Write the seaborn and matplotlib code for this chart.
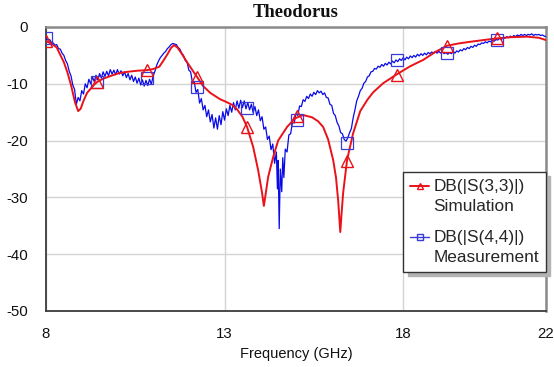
import numpy as np
import pandas as pd
import matplotlib
matplotlib.use("Agg")
import matplotlib.pyplot as plt
from matplotlib.lines import Line2D
import seaborn as sns

# ---------------- data ----------------
sim_freq = [8.0, 8.15, 8.3, 8.5, 8.6, 8.7, 8.81, 8.9, 8.97, 9.05, 9.15, 9.34, 9.43, 9.6,
            9.82, 10.05, 10.27, 10.55, 10.83, 11.0, 11.17, 11.28, 11.39, 11.5, 11.58,
            11.68, 11.8, 11.95, 12.1, 12.23, 12.4, 12.6, 12.87, 13.05, 13.21, 13.35,
            13.5, 13.63, 13.8, 13.94, 14.05, 14.1, 14.16, 14.22, 14.36, 14.5, 14.75,
            14.97, 15.2, 15.45, 15.62, 15.76, 15.9, 16.04, 16.12, 16.18, 16.24, 16.28,
            16.32, 16.43, 16.6, 16.8, 17.0, 17.16, 17.44, 17.83, 18.2, 18.56, 18.9,
            19.23, 19.55, 19.88, 20.25, 20.63, 21.0, 21.47, 21.8, 22.0]
sim_db = [-2.5, -2.9, -3.6, -6.2, -8.0, -10.2, -13.2, -14.8, -14.4, -13.0, -11.6, -10.2,
          -9.7, -9.1, -8.6, -8.1, -7.9, -7.7, -7.6, -7.4, -7.0, -6.0, -4.9, -3.7, -3.2,
          -3.6, -4.7, -6.2, -7.6, -8.8, -10.4, -11.6, -12.7, -13.2, -13.7, -14.5, -15.8,
          -17.6, -21.1, -25.2, -29.2, -31.5, -29.0, -26.4, -22.9, -20.0, -17.6, -16.1,
          -15.5, -15.9, -16.6, -17.6, -19.8, -23.4, -26.5, -30.5, -36.1, -32.5, -29.2,
          -23.4, -18.7, -14.8, -12.8, -11.5, -9.9, -8.3, -6.9, -5.8, -4.4, -3.3, -2.9,
          -2.6, -2.3, -2.0, -1.8, -1.7, -1.9, -2.3]

meas_freq = [8.00, 8.05, 8.10, 8.15, 8.20, 8.25, 8.30, 8.35, 8.40, 8.45, 8.50, 8.55, 8.60,
             8.65, 8.70, 8.75, 8.80, 8.85, 8.90, 8.95, 9.00, 9.05, 9.10, 9.15, 9.20, 9.25,
             9.30, 9.35, 9.40, 9.45, 9.50, 9.55, 9.60, 9.65, 9.70, 9.75, 9.80, 9.85, 9.90,
             9.95, 10.00, 10.05, 10.10, 10.15, 10.20, 10.25, 10.30, 10.35, 10.40, 10.45,
             10.50, 10.55, 10.60, 10.65, 10.70, 10.75, 10.80, 10.85, 10.90, 10.95, 11.00,
             11.05, 11.10, 11.15, 11.20, 11.25, 11.30, 11.35, 11.40, 11.45, 11.50, 11.55,
             11.60, 11.65, 11.70, 11.75, 11.80, 11.85, 11.90, 11.95, 12.00, 12.05, 12.10,
             12.15, 12.20, 12.25, 12.30, 12.35, 12.40, 12.45, 12.50, 12.55, 12.60, 12.65,
             12.70, 12.75, 12.80, 12.85, 12.90, 12.95, 13.00, 13.05, 13.10, 13.15, 13.20,
             13.25, 13.30, 13.35, 13.40, 13.45, 13.50, 13.55, 13.60, 13.65, 13.70, 13.75,
             13.80, 13.85, 13.90, 13.95, 14.00, 14.05, 14.10, 14.15, 14.20, 14.25, 14.30,
             14.35, 14.40, 14.45, 14.48, 14.50, 14.53, 14.56, 14.60, 14.63, 14.66, 14.70,
             14.75, 14.80, 14.85, 14.90, 14.95, 15.00, 15.05, 15.10, 15.15, 15.20, 15.25,
             15.30, 15.35, 15.40, 15.45, 15.50, 15.55, 15.60, 15.65, 15.70, 15.75, 15.80,
             15.85, 15.90, 15.95, 16.00, 16.05, 16.10, 16.15, 16.20, 16.25, 16.30, 16.35,
             16.40, 16.45, 16.50, 16.55, 16.60, 16.65, 16.70, 16.75, 16.80, 16.85, 16.90,
             16.95, 17.00, 17.05, 17.10, 17.15, 17.20, 17.25, 17.30, 17.35, 17.40, 17.45,
             17.50, 17.55, 17.60, 17.65, 17.70, 17.75, 17.80, 17.85, 17.90, 17.95, 18.00,
             18.05, 18.10, 18.15, 18.20, 18.25, 18.30, 18.35, 18.40, 18.45, 18.50, 18.55,
             18.60, 18.65, 18.70, 18.75, 18.80, 18.85, 18.90, 18.95, 19.00, 19.05, 19.10,
             19.15, 19.20, 19.25, 19.30, 19.35, 19.40, 19.45, 19.50, 19.55, 19.60, 19.65,
             19.70, 19.75, 19.80, 19.85, 19.90, 19.95, 20.00, 20.05, 20.10, 20.15, 20.20,
             20.25, 20.30, 20.35, 20.40, 20.45, 20.50, 20.55, 20.60, 20.65, 20.70, 20.75,
             20.80, 20.85, 20.90, 20.95, 21.00, 21.05, 21.10, 21.15, 21.20, 21.25, 21.30,
             21.35, 21.40, 21.45, 21.50, 21.55, 21.60, 21.65, 21.70, 21.75, 21.80, 21.85,
             21.90, 21.95, 22.00]
meas_db = [-2.0, -2.3, -2.2, -2.7, -2.8, -3.2, -3.1, -3.8, -3.9, -4.6, -5.0, -5.9, -6.5,
           -7.8, -8.6, -10.2, -11.0, -13.6, -12.4, -13.0, -11.2, -11.8, -10.0, -10.7, -9.2,
           -10.0, -8.8, -9.6, -8.5, -9.3, -8.2, -9.0, -7.9, -8.7, -7.8, -8.6, -7.5, -8.3,
           -7.6, -8.4, -7.5, -8.3, -7.7, -8.6, -7.9, -8.9, -8.2, -9.3, -8.5, -9.6, -8.8,
           -9.9, -9.0, -10.2, -9.3, -10.4, -9.4, -10.3, -9.2, -10.1, -8.6, -7.8, -6.7,
           -6.0, -5.4, -5.0, -4.6, -4.3, -3.8, -3.5, -3.1, -2.9, -3.0, -3.1, -3.6, -3.9,
           -4.6, -5.0, -5.9, -6.2, -7.6, -7.9, -9.8, -9.6, -11.5, -11.0, -13.4, -12.6,
           -14.6, -13.8, -15.8, -14.6, -16.7, -15.4, -17.8, -16.0, -18.0, -15.6, -17.2,
           -14.9, -16.4, -14.4, -15.6, -13.8, -15.0, -13.3, -14.6, -13.0, -14.3, -12.9,
           -14.2, -13.0, -14.4, -13.3, -14.6, -13.6, -15.1, -14.0, -15.6, -14.6, -16.5,
           -15.8, -18.0, -17.6, -19.8, -19.2, -21.6, -20.6, -24.0, -22.0, -28.5, -23.5,
           -35.5, -25.0, -29.0, -23.0, -26.5, -21.5, -22.0, -19.0, -18.8, -16.8, -16.9,
           -15.2, -15.6, -13.9, -14.0, -12.8, -13.1, -12.2, -12.6, -11.8, -12.2, -11.5,
           -11.9, -11.2, -11.6, -11.3, -11.9, -11.6, -12.4, -12.5, -13.6, -13.8, -15.2,
           -15.6, -16.8, -17.4, -18.6, -18.8, -19.8, -20.1, -19.5, -18.6, -17.9, -16.0,
           -14.6, -13.0, -12.2, -11.2, -10.8, -9.9, -9.6, -8.8, -8.6, -7.9, -7.8, -7.3,
           -7.4, -6.9, -7.1, -6.6, -6.9, -6.4, -6.7, -6.2, -6.5, -6.0, -6.3, -5.8, -6.1,
           -5.6, -5.9, -5.4, -5.8, -5.3, -5.6, -5.1, -5.4, -5.0, -5.3, -4.8, -5.1, -4.7,
           -5.0, -4.6, -4.9, -4.5, -4.7, -4.4, -4.6, -4.3, -4.6, -4.3, -4.6, -4.4, -4.7,
           -4.5, -4.8, -4.5, -4.7, -4.3, -4.6, -4.2, -4.4, -4.0, -4.2, -3.8, -4.0, -3.6,
           -3.8, -3.4, -3.6, -3.2, -3.4, -3.0, -3.1, -2.8, -2.9, -2.6, -2.8, -2.5, -2.6,
           -2.3, -2.5, -2.2, -2.3, -2.0, -2.2, -1.9, -2.0, -1.7, -1.9, -1.6, -1.8, -1.5,
           -1.7, -1.4, -1.6, -1.3, -1.5, -1.3, -1.5, -1.3, -1.4, -1.2, -1.5, -1.3, -1.4,
           -1.3, -1.5, -1.4, -1.6, -1.7]

marker_freq = [8.0, 9.43, 10.83, 12.23, 13.63, 15.03, 16.43, 17.83, 19.23, 20.63]
sim_marker_db = [-2.4, -9.7, -7.6, -8.8, -17.6, -15.7, -23.6, -8.4, -3.3, -2.0]
meas_marker_db = [-2.0, -9.7, -9.0, -10.6, -14.3, -16.4, -20.4, -5.8, -4.6, -2.3]

x_ticks = [8, 13, 18, 22]
y_ticks = [0, -10, -20, -30, -40, -50]
title = "Theodorus"
x_label = "Frequency (GHz)"
sim_label = "DB(|S(3,3)|)\nSimulation"
meas_label = "DB(|S(4,4)|)\nMeasurement"

# ---------------- styling ----------------
RED = "#ea1118"
BLUE = "#0a0ae6"
MBLUE = "#3a3ad8"

sns.set_theme(style="white")
plt.rcParams["font.family"] = ["Liberation Sans", "DejaVu Sans"]

fig = plt.figure(figsize=(5.54, 3.67), dpi=100)
ax = fig.add_axes([46 / 554, 1 - 311 / 367, 500 / 554, 284 / 367])

sim_df = pd.DataFrame({"f": sim_freq, "db": sim_db})
meas_df = pd.DataFrame({"f": meas_freq, "db": meas_db})

sns.lineplot(data=meas_df, x="f", y="db", ax=ax, color=BLUE, linewidth=0.9,
             estimator=None, sort=False, zorder=3)
sns.lineplot(data=sim_df, x="f", y="db", ax=ax, color=RED, linewidth=1.4,
             estimator=None, sort=False, zorder=4)

ax.plot(marker_freq, meas_marker_db, linestyle="none", marker="s", markersize=8,
        markerfacecolor="none", markeredgecolor=MBLUE, markeredgewidth=0.9, zorder=5)
ax.plot(marker_freq, sim_marker_db, linestyle="none", marker="^", markersize=8.5,
        markerfacecolor="none", markeredgecolor=RED, markeredgewidth=1.0, zorder=6)

ax.set_xlim(8, 22)
ax.set_ylim(-50, 0)
ax.set_xticks(x_ticks)
ax.set_yticks(y_ticks)
ax.set_xticklabels([str(t) for t in x_ticks])
ax.set_yticklabels([str(t) for t in y_ticks])
ax.tick_params(axis="both", length=0, labelsize=10.8, colors="#111111")
ax.tick_params(axis="x", pad=11.5)
ax.tick_params(axis="y", pad=13)

ax.grid(True, color="#d4d4d4", linewidth=1.0)
ax.set_axisbelow(True)

for side in ["left", "bottom"]:
    ax.spines[side].set_color("#3c3c3c")
    ax.spines[side].set_linewidth(1.3)
for side in ["top", "right"]:
    ax.spines[side].set_color("#8a8a8a")
    ax.spines[side].set_linewidth(1.8)

ax.set_xlabel(x_label, fontsize=10.5, labelpad=4, color="#111111")
ax.set_ylabel("")
ax.set_title(title, fontsize=13.3, fontweight="bold", family="Liberation Serif",
             pad=7, color="#111111")

# legend: handle on the first line of each two-line label
h_sim = Line2D([], [], color=RED, linewidth=1.4, marker="^", markersize=5,
               markerfacecolor="none", markeredgecolor=RED)
h_meas = Line2D([], [], color=MBLUE, linewidth=1.0, marker="s", markersize=5,
                markerfacecolor="none", markeredgecolor=MBLUE)
leg = ax.legend([h_sim, h_meas], [sim_label, meas_label],
                loc="upper right", bbox_to_anchor=(1.0, 0.49), borderaxespad=0,
                fontsize=12.4, handlelength=1.1, handletextpad=0.25,
                handleheight=1.1, borderpad=0.4, labelspacing=0.95,
                fancybox=False, frameon=True, framealpha=1,
                shadow={"ox": 3, "oy": -3, "color": "0.7", "alpha": 1})
for txt in leg.get_texts():
    txt.set_linespacing(1.42)
for col in leg._legend_handle_box.get_children():
    for hp in col.get_children():
        hp.align = "top"
leg.get_frame().set_edgecolor("#333333")
leg.get_frame().set_linewidth(1.0)
leg.set_zorder(10)

fig.savefig("out.png", dpi=100)
